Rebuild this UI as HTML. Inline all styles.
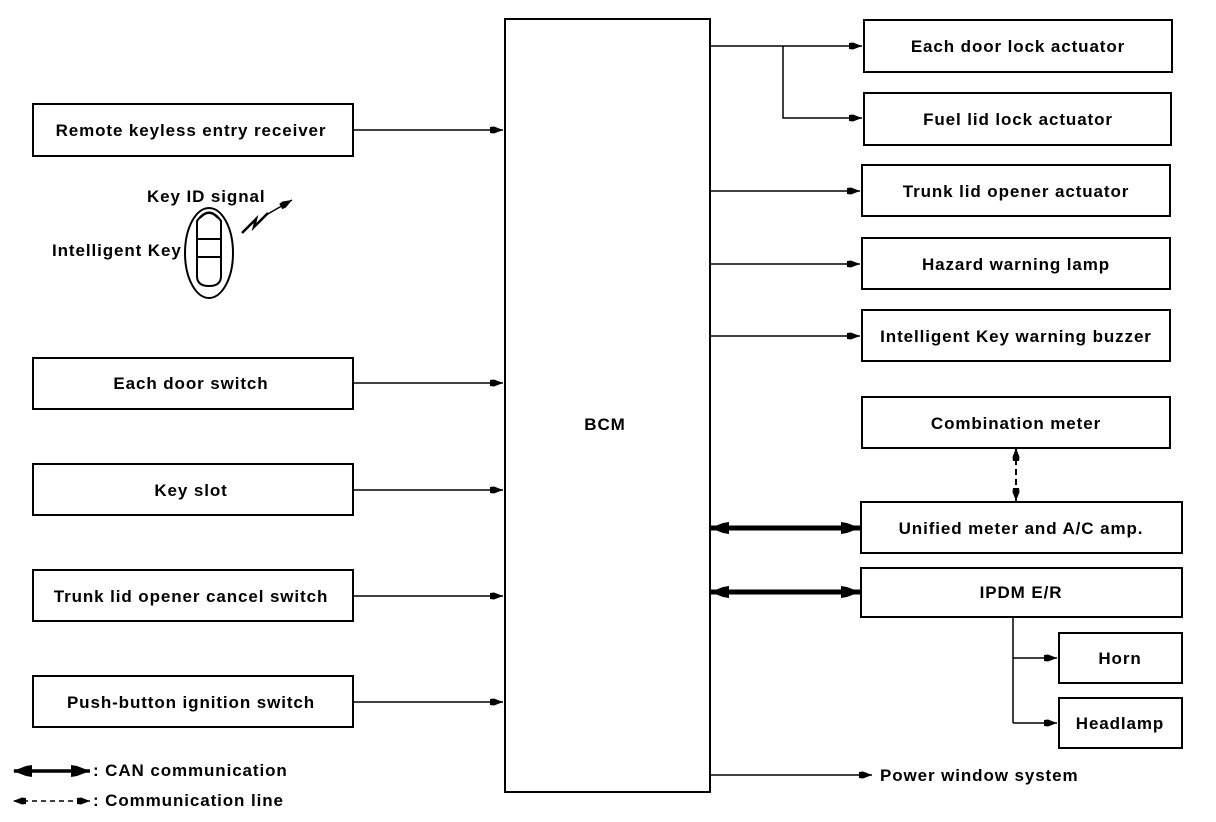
<!DOCTYPE html>
<html><head><meta charset="utf-8"><style>
html,body{margin:0;padding:0;background:#fff;}
svg{display:block;}
text{font-family:"Liberation Sans",Arial,sans-serif;font-size:17px;font-weight:bold;letter-spacing:0.9px;fill:#000;}
</style></head><body>
<svg width="1216" height="822" viewBox="0 0 1216 822" xmlns="http://www.w3.org/2000/svg">
<defs>
<marker id="a" markerWidth="14" markerHeight="8" refX="13" refY="4" orient="auto" markerUnits="userSpaceOnUse">
<path d="M0,1 L4,0.5 L13,4 L4,7.5 L0,7 Z" fill="#000"/></marker>
<marker id="as" markerWidth="14" markerHeight="8" refX="1" refY="4" orient="auto" markerUnits="userSpaceOnUse">
<path d="M13,1 L9,0.5 L0,4 L9,7.5 L13,7 Z" fill="#000"/></marker>
<marker id="b" markerWidth="20" markerHeight="12" refX="19" refY="6" orient="auto" markerUnits="userSpaceOnUse">
<path d="M0,0 L6,1 L19,6 L6,11 L0,12 Z" fill="#000"/></marker>
<marker id="bs" markerWidth="20" markerHeight="12" refX="1" refY="6" orient="auto" markerUnits="userSpaceOnUse">
<path d="M19,0 L13,1 L0,6 L13,11 L19,12 Z" fill="#000"/></marker>
</defs>
<g fill="none" stroke="#000" stroke-width="2">
<rect x="505" y="19" width="205" height="773"/>
<rect x="33" y="104" width="320" height="52"/>
<rect x="33" y="358" width="320" height="51"/>
<rect x="33" y="464" width="320" height="51"/>
<rect x="33" y="570" width="320" height="51"/>
<rect x="33" y="676" width="320" height="51"/>
<rect x="864" y="20" width="308" height="52"/>
<rect x="864" y="93" width="307" height="52"/>
<rect x="862" y="165" width="308" height="51"/>
<rect x="862" y="238" width="308" height="51"/>
<rect x="862" y="310" width="308" height="51"/>
<rect x="862" y="397" width="308" height="51"/>
<rect x="861" y="502" width="321" height="51"/>
<rect x="861" y="568" width="321" height="49"/>
<rect x="1059" y="633" width="123" height="50"/>
<rect x="1059" y="698" width="123" height="50"/>
</g>
<g fill="none" stroke="#000" stroke-width="1.5">
<line x1="353" y1="130" x2="503" y2="130" marker-end="url(#a)"/>
<line x1="353" y1="383" x2="503" y2="383" marker-end="url(#a)"/>
<line x1="353" y1="490" x2="503" y2="490" marker-end="url(#a)"/>
<line x1="353" y1="596" x2="503" y2="596" marker-end="url(#a)"/>
<line x1="353" y1="702" x2="503" y2="702" marker-end="url(#a)"/>
<line x1="710" y1="46" x2="862" y2="46" marker-end="url(#a)"/>
<polyline points="783,46 783,118 862,118" marker-end="url(#a)"/>
<line x1="710" y1="191" x2="860" y2="191" marker-end="url(#a)"/>
<line x1="710" y1="264" x2="860" y2="264" marker-end="url(#a)"/>
<line x1="710" y1="336" x2="860" y2="336" marker-end="url(#a)"/>
<line x1="710" y1="775" x2="872" y2="775" marker-end="url(#a)"/>
<line x1="1013" y1="617" x2="1013" y2="723"/>
<line x1="1013" y1="658" x2="1057" y2="658" marker-end="url(#a)"/>
<line x1="1013" y1="723" x2="1057" y2="723" marker-end="url(#a)"/>
<line x1="1016" y1="449" x2="1016" y2="501" stroke-width="2" stroke-dasharray="6,4" marker-start="url(#as)" marker-end="url(#a)"/>
<line x1="711" y1="528" x2="860" y2="528" stroke-width="5" marker-start="url(#bs)" marker-end="url(#b)"/>
<line x1="711" y1="592" x2="860" y2="592" stroke-width="5" marker-start="url(#bs)" marker-end="url(#b)"/>
<line x1="14" y1="771" x2="90" y2="771" stroke-width="3.5" marker-start="url(#bs)" marker-end="url(#b)"/>
<line x1="14" y1="801" x2="90" y2="801" stroke-dasharray="5,4" marker-start="url(#as)" marker-end="url(#a)"/>
</g>
<g fill="none" stroke="#000" stroke-width="2">
<ellipse cx="209" cy="253" rx="24" ry="45"/>
<path d="M197,221 Q209,204 221,221 L221,276 Q221,286 209,286 Q197,286 197,276 Z"/>
<line x1="197" y1="239" x2="221" y2="239"/>
<line x1="197" y1="257" x2="221" y2="257"/>
<path d="M200,218 Q209,208 218,218"/>
</g>
<polyline points="242,233 256,219 254,227 268,213" fill="none" stroke="#000" stroke-width="2.5"/>
<line x1="266" y1="215" x2="292" y2="200" stroke="#000" stroke-width="1.5" marker-end="url(#a)"/>
<g text-anchor="middle">
<text x="191" y="136">Remote keyless entry receiver</text>
<text x="191" y="389">Each door switch</text>
<text x="191" y="496">Key slot</text>
<text x="191" y="602">Trunk lid opener cancel switch</text>
<text x="191" y="708">Push-button ignition switch</text>
<text x="605" y="430">BCM</text>
<text x="1018" y="52">Each door lock actuator</text>
<text x="1018" y="125">Fuel lid lock actuator</text>
<text x="1016" y="197">Trunk lid opener actuator</text>
<text x="1016" y="270">Hazard warning lamp</text>
<text x="1016" y="342">Intelligent Key warning buzzer</text>
<text x="1016" y="429">Combination meter</text>
<text x="1021" y="534">Unified meter and A/C amp.</text>
<text x="1021" y="598">IPDM E/R</text>
<text x="1120" y="664">Horn</text>
<text x="1120" y="729">Headlamp</text>
</g>
<text x="147" y="202">Key ID signal</text>
<text x="52" y="256">Intelligent Key</text>
<text x="880" y="781">Power window system</text>
<text x="93" y="776">: CAN communication</text>
<text x="93" y="806">: Communication line</text>
</svg>
</body></html>
